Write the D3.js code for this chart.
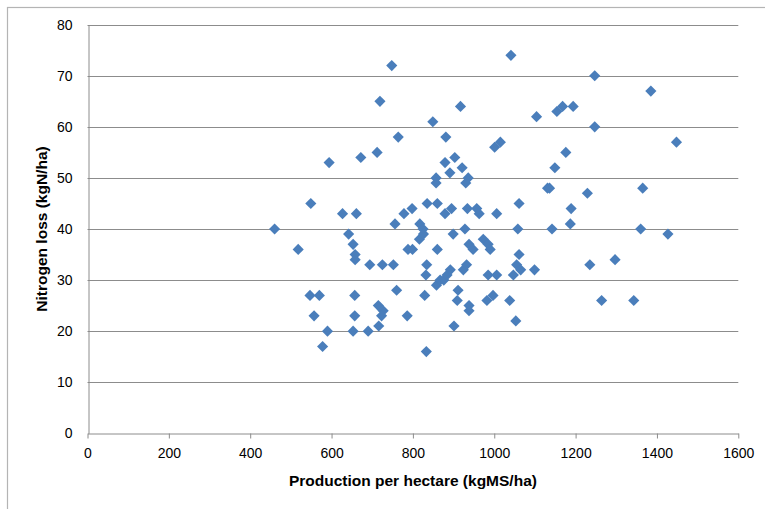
<!DOCTYPE html>
<html>
<head>
<meta charset="utf-8">
<style>
  body { margin: 0; background: #fff; }
  text { font-family: "Liberation Sans", Arial, sans-serif; fill: #000; }
  .tick-label { font-size: 14px; }
  .axis-title { font-size: 15.5px; font-weight: bold; }
</style>
<script src="https://d3js.org/d3.v7.min.js"></script>
</head>
<body>
<div id="chart"></div>
<script>

// production per hectare (kgMS/ha) for each farm
var production = [
  460, 518, 549, 547, 570, 557, 590, 578, 594, 627,
  642, 653, 658, 658, 661, 657, 657, 653, 672, 694,
  690, 712, 719, 725, 715, 727, 723, 716, 748, 752,
  756, 764, 760, 778, 786, 788, 799, 798, 816, 817,
  825, 826, 829, 832, 834, 833, 835, 849, 857, 857,
  860, 860, 858, 867, 876, 884, 892, 879, 881, 879,
  891, 895, 899, 903, 901, 911, 909, 917, 921, 930,
  936, 928, 924, 932, 934, 938, 948, 938, 938, 957,
  963, 973, 985, 990, 985, 1006, 982, 997, 1006, 1001,
  1015, 1041, 1038, 1047, 1053, 1058, 1061, 1061, 1055, 1065,
  1099, 1104, 1131, 1136, 1142, 1149, 1154, 1168, 1194, 1176,
  1187, 1189, 1229, 1235, 1247, 1247, 1264, 1297, 1343, 1360,
  1365, 1385, 1427, 1448
];

// nitrogen loss (kgN/ha) for the same farms
var nitrogenLoss = [
  40, 36, 45, 27, 27, 23, 20, 17, 53, 43,
  39, 37, 35, 34, 43, 27, 23, 20, 54, 33,
  20, 55, 65, 33, 25, 24, 23, 21, 72, 33,
  41, 58, 28, 43, 23, 36, 36, 44, 38, 41,
  40, 39, 27, 31, 33, 16, 45, 61, 50, 49,
  45, 36, 29, 30, 30, 31, 32, 53, 58, 43,
  51, 44, 39, 54, 21, 28, 26, 64, 52, 49,
  50, 40, 32, 33, 44, 37, 36, 25, 24, 44,
  43, 38, 37, 36, 31, 31, 26, 27, 43, 56,
  57, 74, 26, 31, 22, 40, 45, 35, 33, 32,
  32, 62, 48, 48, 40, 52, 63, 64, 64, 55,
  41, 44, 47, 33, 70, 60, 26, 34, 26, 40,
  48, 67, 39, 57
];

var xTicks = [0, 200, 400, 600, 800, 1000, 1200, 1400, 1600];
var yTicks = [0, 10, 20, 30, 40, 50, 60, 70, 80];

var width = 765, height = 509;
var plot = {left: 87.5, right: 738.3, top: 24.7, bottom: 433.3};

var svg = d3.select("#chart")
  .append("svg")
    .attr("width", width)
    .attr("height", height);

// outer chart area border
svg.append("rect")
  .attr("x", 7.5)
  .attr("y", 7.5)
  .attr("width", 800)
  .attr("height", 600)
  .attr("fill", "#fff")
  .attr("stroke", "#b4b4b4")
  .attr("stroke-width", 1.2);

var x = d3.scaleLinear()
  .domain([0, 1600])
  .range([plot.left, plot.right]);

var y = d3.scaleLinear()
  .domain([0, 80])
  .range([plot.bottom, plot.top]);

// horizontal gridlines
svg.append("g")
  .selectAll("line")
  .data(yTicks.slice(1))
  .enter()
  .append("line")
    .attr("x1", plot.left)
    .attr("x2", plot.right)
    .attr("y1", function(d) { return Math.round(y(d)) + 0.5; })
    .attr("y2", function(d) { return Math.round(y(d)) + 0.5; })
    .attr("stroke", "#8c8c8c")
    .attr("stroke-width", 1);

// x axis
var xAxis = svg.append("g")
  .attr("transform", "translate(0," + (Math.round(plot.bottom) + 0.5) + ")")
  .call(d3.axisBottom(x).tickValues(xTicks).tickFormat(d3.format("d"))
    .tickSize(5).tickPadding(10).tickSizeOuter(0));
xAxis.select(".domain").attr("stroke", "#8c8c8c");
xAxis.selectAll(".tick line").attr("stroke", "#8c8c8c");
xAxis.selectAll(".tick text")
  .attr("class", "tick-label")
  .attr("font-family", null)
  .attr("font-size", null);

// y axis
var yAxis = svg.append("g")
  .attr("transform", "translate(" + (Math.round(plot.left) + 0.5) + ",0)")
  .call(d3.axisLeft(y).tickValues(yTicks).tickFormat(d3.format("d"))
    .tickSize(0).tickPadding(16).tickSizeOuter(0));
yAxis.select(".domain").attr("stroke", "#8c8c8c");
yAxis.selectAll(".tick text")
  .attr("class", "tick-label")
  .attr("font-family", null)
  .attr("font-size", null);

// diamonds
var diamond = d3.symbol().type(d3.symbolSquare).size(62);
svg.append("g")
  .selectAll("path")
  .data(production.map(function(p, i) { return {x: p, y: nitrogenLoss[i]}; }))
  .enter()
  .append("path")
    .attr("d", diamond)
    .attr("transform", function(d) {
      return "translate(" + x(d.x) + "," + y(d.y) + ") rotate(45)";
    })
    .attr("fill", "#4a7ebb");

// axis titles
svg.append("text")
  .attr("class", "axis-title")
  .attr("x", (plot.left + plot.right) / 2)
  .attr("y", 486)
  .attr("text-anchor", "middle")
  .text("Production per hectare (kgMS/ha)");

svg.append("text")
  .attr("class", "axis-title")
  .attr("transform", "translate(47," + ((plot.top + plot.bottom) / 2) + ") rotate(-90)")
  .attr("text-anchor", "middle")
  .text("Nitrogen loss (kgN/ha)");

</script>
</body>
</html>
